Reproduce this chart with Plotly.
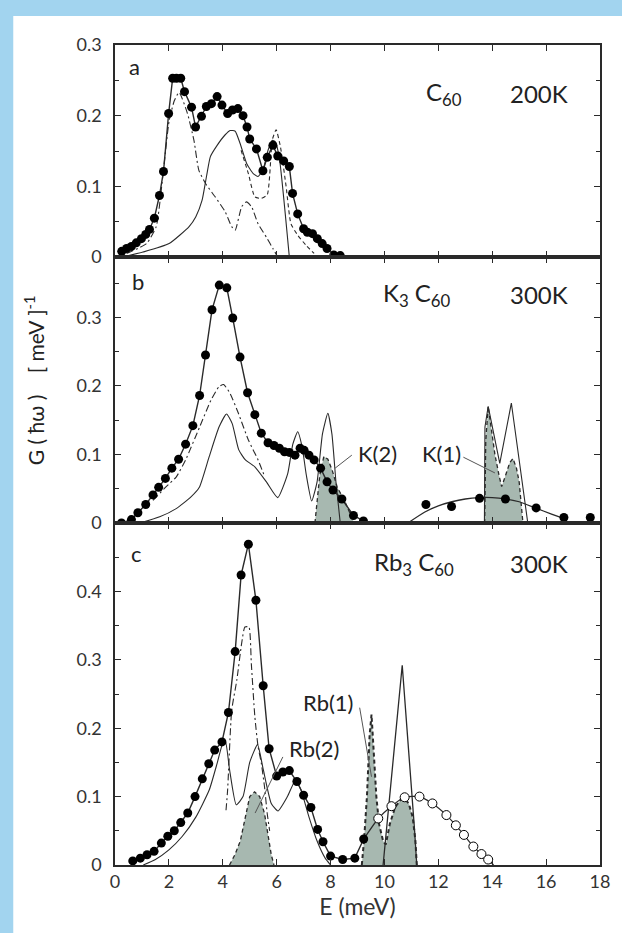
import plotly.graph_objects as go
from plotly.subplots import make_subplots

# ---------------- data ----------------
# Panel a: C60 200K
a_dots_E = [0.25,0.43,0.61,0.79,0.98,1.14,1.28,1.46,1.65,1.8,1.99,2.14,2.28,2.44,2.58,2.84,2.99,3.21,3.39,3.58,3.79,3.97,4.18,4.36,4.56,4.75,4.9,5.0,5.25,5.49,5.65,5.86,6.04,6.26,6.47,6.59,6.78,7.0,7.14,7.33,7.51,7.69,7.87,8.12,8.36]
a_dots_G = [0.008,0.012,0.015,0.02,0.026,0.032,0.039,0.055,0.087,0.121,0.203,0.253,0.253,0.253,0.234,0.212,0.184,0.199,0.213,0.217,0.227,0.215,0.203,0.208,0.21,0.2,0.184,0.167,0.153,0.122,0.141,0.158,0.143,0.136,0.128,0.09,0.061,0.04,0.035,0.033,0.026,0.019,0.012,0.003,0.002]
a_solid_E = [0.3,1.04,2.01,2.75,3.0,3.23,3.4,3.54,3.79,4.09,4.27,4.46,4.64,4.89,5.13,5.31,5.49,5.68,5.83,5.95,6.1,6.47]
a_solid_G = [0,0.007,0.019,0.043,0.057,0.08,0.115,0.142,0.158,0.173,0.179,0.178,0.161,0.132,0.118,0.114,0.123,0.151,0.165,0.163,0.14,0]
a_dd_E = [0.43,1.17,1.53,1.77,2.01,2.2,2.38,2.69,2.93,3.11,3.36,3.72,4.09,4.33,4.46,4.7,4.88,5.07,5.31,5.62,5.86,6.04]
a_dd_G = [0.005,0.019,0.043,0.113,0.193,0.221,0.233,0.203,0.165,0.123,0.104,0.085,0.064,0.043,0.038,0.071,0.078,0.071,0.047,0.028,0.012,0]
a_dash_E = [4.68,4.95,5.19,5.43,5.65,5.84,5.98,6.14,6.35,6.53,6.78,7.08,7.39]
a_dash_G = [0.151,0.118,0.085,0.083,0.088,0.166,0.18,0.156,0.1,0.047,0.031,0.017,0.005]

# Panel b: K3C60 300K
b_dots_E = [0.24,0.61,0.85,1.14,1.41,1.62,1.87,2.11,2.36,2.62,2.89,3.14,3.36,3.6,3.87,4.15,4.37,4.64,4.92,5.19,5.43,5.68,5.9,6.1,6.29,6.47,6.68,6.87,7.02,7.2,7.39,7.63,7.87,8.09,8.42,8.85,9.22]
b_dots_G = [0.0,0.005,0.015,0.027,0.041,0.052,0.065,0.08,0.093,0.115,0.142,0.186,0.245,0.311,0.347,0.343,0.299,0.242,0.19,0.158,0.131,0.117,0.113,0.109,0.104,0.103,0.099,0.109,0.106,0.099,0.092,0.08,0.06,0.048,0.035,0.011,0.003]
b_dots2_E = [11.54,12.49,13.53,14.49,15.63,16.66,17.64]
b_dots2_G = [0.027,0.024,0.036,0.035,0.022,0.008,0.008]
b_fit_E = [10.87,11.5,12.0,12.5,13.0,13.5,14.0,14.5,15.0,15.6,16.2,16.7]
b_fit_G = [0,0.016,0.025,0.031,0.035,0.037,0.037,0.035,0.031,0.022,0.013,0.006]
b_solid_E = [0.92,1.66,2.27,2.82,3.13,3.49,3.86,4.14,4.35,4.59,4.84,5.19,5.62,6.04,6.41,6.6,6.78,6.95,7.1,7.3,7.5,7.7,7.9,8.05,8.2,8.36]
b_solid_G = [0,0.009,0.021,0.038,0.052,0.096,0.14,0.159,0.145,0.107,0.092,0.082,0.06,0.037,0.072,0.115,0.133,0.11,0.07,0.032,0.06,0.13,0.16,0.13,0.06,0]
b_dd_E = [1.41,1.9,2.27,2.62,3.14,3.56,3.86,4.03,4.27,4.58,4.95,5.31,5.55]
b_dd_G = [0.033,0.053,0.067,0.092,0.14,0.179,0.199,0.202,0.189,0.16,0.121,0.092,0.068]
k2_E = [7.42,7.5,7.6,7.75,7.9,8.06,8.25,8.5,8.73,8.88]
k2_G = [0,0.03,0.07,0.097,0.093,0.077,0.052,0.034,0.014,0]
k1_E = [13.72,13.76,13.85,13.95,14.1,14.25,14.35,14.5,14.65,14.77,14.9,15.0,15.14]
k1_G = [0,0.12,0.17,0.14,0.1,0.07,0.053,0.07,0.088,0.094,0.08,0.06,0]
k1_solid_E = [13.71,13.73,13.85,14.28,14.71,15.32]
k1_solid_G = [0,0.14,0.17,0.087,0.175,0]

# Panel c: Rb3C60 300K
c_dots_E = [0.66,0.94,1.19,1.45,1.72,1.96,2.2,2.44,2.7,2.97,3.24,3.48,3.7,3.97,4.21,4.46,4.68,4.95,5.23,5.5,5.72,6.0,6.23,6.47,6.75,7.0,7.27,7.52,7.72,8.0,8.45,8.9,9.23]
c_dots_G = [0.006,0.01,0.015,0.02,0.032,0.042,0.05,0.062,0.076,0.1,0.126,0.148,0.168,0.18,0.223,0.312,0.424,0.469,0.387,0.262,0.17,0.13,0.136,0.138,0.122,0.102,0.084,0.052,0.034,0.013,0.008,0.01,0.038]
c_open_E = [9.77,10.26,10.75,11.3,11.78,12.3,12.65,12.95,13.3,13.6,13.85]
c_open_G = [0.068,0.086,0.099,0.1,0.09,0.073,0.058,0.044,0.027,0.016,0.008]
c_openline_E = [9.23,9.77,10.26,10.75,11.3,11.78,12.3,12.65,12.95,13.3,13.6,13.85,14.05]
c_openline_G = [0.038,0.068,0.086,0.099,0.1,0.09,0.073,0.058,0.044,0.027,0.016,0.008,0]
c_solid_E = [1.05,1.5,2.0,2.5,3.0,3.5,3.8,4.0,4.1,4.25,4.5,4.75,5.0,5.29,5.5,5.8,6.05,6.4,6.7,6.9,7.2,7.5,7.8,8.0]
c_solid_G = [0,0.008,0.022,0.042,0.07,0.11,0.15,0.178,0.18,0.14,0.088,0.1,0.15,0.176,0.14,0.09,0.079,0.1,0.124,0.11,0.07,0.035,0.01,0]
c_dd_E = [4.12,4.18,4.33,4.52,4.7,4.82,4.97,5.06,5.19,5.31,5.43,5.55,5.65,5.74]
c_dd_G = [0.08,0.11,0.226,0.27,0.324,0.348,0.348,0.294,0.217,0.173,0.149,0.114,0.075,0.05]
rb2_E = [4.25,4.45,4.65,4.85,5.0,5.18,5.37,5.55,5.68,5.8,5.9]
rb2_G = [0,0.015,0.035,0.075,0.1,0.107,0.1,0.075,0.045,0.015,0]
rb1_E = [9.16,9.25,9.35,9.45,9.52,9.6,9.7,9.8,9.95,10.05,10.2,10.4,10.6,10.75,10.9,11.05,11.15,11.2]
rb1_G = [0,0.04,0.1,0.19,0.22,0.17,0.1,0.06,0.035,0.03,0.06,0.085,0.095,0.097,0.09,0.07,0.035,0]
rb_spike_E = [9.95,10.66,11.12,11.2]
rb_spike_G = [0,0.292,0.05,0]

x_ticks = [0, 2, 4, 6, 8, 10, 12, 14, 16, 18]

# ---------------- figure ----------------
INK = "#2a2a2a"
FILL = "#a7b8b0"
FONT = "Lato"
DD = "7px,3px,2px,3px"
DA = "4px,3px"

fig = make_subplots(rows=3, cols=1, shared_xaxes=True, vertical_spacing=0,
                    row_heights=[212, 266, 342])

def add(tr, row):
    fig.add_trace(tr, row=row, col=1)

def fillshape(x, y, row, width=1.3):
    add(go.Scatter(x=x, y=y, mode="lines", fill="toself", fillcolor=FILL,
                   line=dict(color=INK, width=width, dash=DA)), row)

def curve(x, y, row, dash="solid", width=1.1, shape="spline"):
    add(go.Scatter(x=x, y=y, mode="lines",
                   line=dict(color=INK, width=width, dash=dash, shape=shape, smoothing=0.5)), row)

def dots(x, y, row, line=True, open_=False):
    add(go.Scatter(x=x, y=y, mode="lines+markers" if line else "markers",
                   line=dict(color=INK, width=1.4),
                   marker=dict(size=9, color="white" if open_ else "black",
                               line=dict(color="black", width=1 if open_ else 0))), row)

# panel a
curve(a_solid_E, a_solid_G, 1)
curve(a_dd_E, a_dd_G, 1, dash=DD)
curve(a_dash_E, a_dash_G, 1, dash=DA)
dots(a_dots_E, a_dots_G, 1)

# panel b
fillshape(k2_E, k2_G, 2)
fillshape(k1_E, k1_G, 2)
curve(b_solid_E, b_solid_G, 2)
curve(k1_solid_E, k1_solid_G, 2, shape="linear")
curve(b_dd_E, b_dd_G, 2, dash=DD)
curve(b_fit_E, b_fit_G, 2, width=1.3)
dots(b_dots_E, b_dots_G, 2)
dots(b_dots2_E, b_dots2_G, 2, line=False)

# panel c
fillshape(rb2_E, rb2_G, 3)
fillshape(rb1_E, rb1_G, 3, width=2)
curve(c_solid_E, c_solid_G, 3)
curve(rb_spike_E, rb_spike_G, 3, shape="linear", width=1.3)
curve(c_dd_E, c_dd_G, 3, dash=DD)
curve(c_openline_E, c_openline_G, 3, width=1.2)
dots(c_dots_E, c_dots_G, 3)
dots(c_open_E, c_open_G, 3, line=False, open_=True)

axis_common = dict(showline=True, linecolor=INK, linewidth=1.5, mirror="ticks",
                   ticks="inside", ticklen=6, tickcolor=INK, tickwidth=1,
                   showgrid=False, zeroline=False,
                   tickfont=dict(family=FONT, size=18, color="#333"))
for r in (1, 2, 3):
    fig.update_xaxes(range=[0, 18], tickvals=x_ticks, ticktext=[str(v) for v in x_ticks],
                     row=r, col=1, **axis_common)
fig.update_xaxes(title=dict(text="E (meV)", font=dict(family=FONT, size=23, color="#333"), standoff=2),
                 row=3, col=1)

minor = dict(dtick=0.05, ticks="inside", ticklen=4, tickcolor=INK, showgrid=False)
fig.update_yaxes(range=[0, 0.3], tickvals=[0, 0.1, 0.2, 0.3], ticktext=["0", "0.1", "0.2", "0.3"],
                 minor=minor, ticklabelstandoff=8, row=1, col=1, **axis_common)
fig.update_yaxes(range=[0, 0.388], tickvals=[0, 0.1, 0.2, 0.3], ticktext=["0", "0.1", "0.2", "0.3"],
                 minor=minor, ticklabelstandoff=8, row=2, col=1, **axis_common)
fig.update_yaxes(range=[0, 0.5], tickvals=[0, 0.1, 0.2, 0.3, 0.4], ticktext=["0", "0.1", "0.2", "0.3", "0.4"],
                 minor=minor, ticklabelstandoff=8, row=3, col=1, **axis_common)

# background: light blue frame with white sheet
W, H = 622, 933
L, R, T, B = 115, 16, 45, 68
pw, ph = W - L - R, H - T - B
def px(x): return (x - L) / pw
def py(y): return (H - B - y) / ph
fig.add_shape(type="rect", xref="paper", yref="paper", x0=px(12), x1=px(640), y0=py(950), y1=py(16),
              fillcolor="white", line=dict(width=0), layer="below")

def text(t, x, y, xref, yref, size=22, **kw):
    fig.add_annotation(text=t, x=x, y=y, xref=xref, yref=yref, showarrow=False,
                       font=dict(family=FONT, size=size, color="#222"), **kw)

text("a", 0.73, 0.27, "x", "y")
text("b", 0.84, 0.352, "x2", "y2")
text("c", 0.8, 0.456, "x3", "y3")
text("C<sub>60</sub>", 12.2, 0.232, "x", "y", size=24)
text("200K", 15.75, 0.232, "x", "y", size=24)
text("K<sub>3</sub> C<sub>60</sub>", 11.2, 0.333, "x2", "y2", size=24)
text("300K", 15.75, 0.333, "x2", "y2", size=24)
text("Rb<sub>3</sub> C<sub>60</sub>", 11.1, 0.441, "x3", "y3", size=24)
text("300K", 15.75, 0.441, "x3", "y3", size=24)
text("K(2)", 9.75, 0.102, "x2", "y2", size=22)
text("K(1)", 12.1, 0.102, "x2", "y2", size=22)
text("Rb(1)", 7.91, 0.237, "x3", "y3", size=22)
text("Rb(2)", 7.4, 0.171, "x3", "y3", size=22)
text("G ( ħω )&nbsp;&nbsp;&nbsp;&nbsp;[ meV ]<sup>-1</sup>", px(17), py(380), "paper", "paper",
     size=21, textangle=-90)

# leader lines
for (x0, y0, x1, y1, xr, yr) in [(8.79, 0.099, 8.17, 0.080, "x2", "y2"),
                                 (12.93, 0.096, 14.1, 0.073, "x2", "y2"),
                                 (9.08, 0.23, 9.52, 0.129, "x3", "y3"),
                                 (6.23, 0.158, 5.2, 0.076, "x3", "y3")]:
    fig.add_shape(type="line", x0=x0, y0=y0, x1=x1, y1=y1, xref=xr, yref=yr,
                  line=dict(color="#555", width=1))

fig.update_layout(width=W, height=H, margin=dict(l=L, r=R, t=T, b=B),
                  paper_bgcolor="#a2d4ef", plot_bgcolor="white", showlegend=False,
                  font=dict(family=FONT))

fig.write_html("out.html", config={"displayModeBar": False},
               post_script="document.body.style.margin='0';document.body.style.overflow='hidden';")
